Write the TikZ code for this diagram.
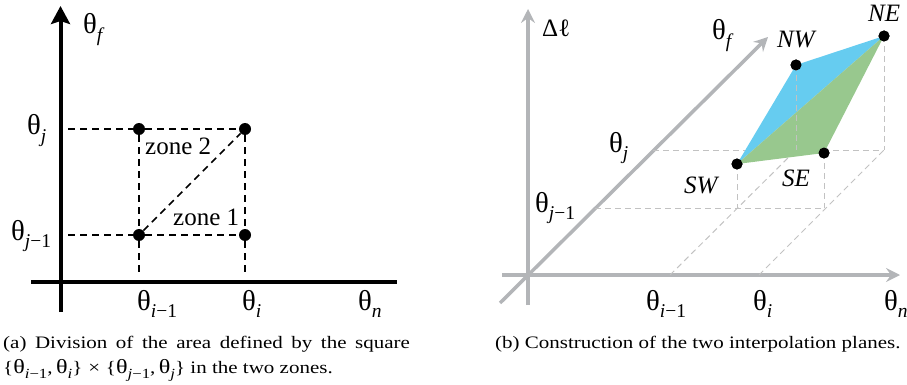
\documentclass[tikz,border=0pt]{standalone}
\usepackage{fontspec}
\setmainfont{Liberation Serif}
\usepackage{graphicx}
\usepackage{xcolor}
\usetikzlibrary{calc, positioning, arrows.meta}

\definecolor{axgray}{HTML}{B3B5B8}
\definecolor{dashgray}{HTML}{C2C2C2}
\definecolor{planeblue}{HTML}{66CCF0}
\definecolor{planegreen}{HTML}{98C88E}

\newcommand{\tht}{\scalebox{1.15}{θ}}
\newcommand{\idx}[1]{\raisebox{-0.3em}{\fontsize{19.5}{20}\selectfont #1}}
\newcommand{\cidx}[1]{\raisebox{-0.3em}{\fontsize{14}{14}\selectfont #1}}
\newcommand{\capline}[1]{\scalebox{1.2}[1]{#1}}

\tikzset{
    lbl/.style={font=\fontsize{25}{30}\selectfont, inner sep=0pt, anchor=base west},
    caption/.style={font=\fontsize{17.5}{25}\selectfont, inner sep=0pt, anchor=base west},
    dot/.style={circle, fill=black, inner sep=0pt, minimum size=12pt},
    grid/.style={dash pattern=on 7pt off 5pt, line width=1.5pt},
    ghost/.style={draw=dashgray, dash pattern=on 6pt off 4pt, line width=1pt},
    gaxis/.style={draw=axgray, line width=3.5pt, -{Stealth[length=14pt,width=14pt,inset=5pt]}}
}

\begin{document}
\begin{tikzpicture}[x=1pt, y=-1pt]
                \useasboundingbox (0,0) rectangle (907,385);

                % 1. Left: axes
                \draw[line width=4pt, -{Stealth[length=18pt,width=19pt,inset=3pt]}] (60.5,312) -- (60.5,6);
                \draw[line width=4pt] (31,282) -- (397,282);

                % 2. Left: corner points of the square
                \node[dot] (p1) at (139,235) {};
                \node[dot] (p2) at (245,235) {};
                \node[dot] (p3) at (139,129) {};
                \node[dot] (p4) at (245,129) {};
                \coordinate (hj)  at (68,129);
                \coordinate (hj1) at (68,235);
                \coordinate (vi1) at (139,273);
                \coordinate (vi)  at (245,273);

                % 3. Left: dashed grid and the diagonal
                \draw[grid] (hj) -- (p3) -- (p4);
                \draw[grid] (hj1) -- (p1) -- (p2);
                \draw[grid] (p3) -- (p1) -- (vi1);
                \draw[grid] (p4) -- (p2) -- (vi);
                \draw[grid] (p1) -- (p4);

                % 4. Left: labels
                \node[lbl] (lf)   at (83,34)   {\tht\idx{\textit{f}}};
                \node[lbl] (lj)   at (27,135)  {\tht\idx{\textit{j}}};
                \node[lbl] (lj1)  at (11,240)  {\tht\idx{\textit{j}−1}};
                \node[lbl] (li1)  at (137,310) {\tht\idx{\textit{i}−1}};
                \node[lbl] (li)   at (242,310) {\tht\idx{\textit{i}}};
                \node[lbl] (ln)   at (358,310) {\tht\idx{\textit{n}}};
                \node[lbl] (zn2)  at (145,154) {zone 2};
                \node[lbl] (zn1)  at (173,225) {zone 1};

                % 5. Right: axes
                \draw[gaxis] (528,305) -- (528,9);
                \draw[gaxis] (502,275) -- (900,275);
                \draw[gaxis] (500,303) -- (768,37);

                % 6. Right: floor grid
                \coordinate (dj1) at (595,208);
                \coordinate (dj)  at (653,150);
                \coordinate (ai1) at (670,275);
                \coordinate (ai)  at (759,275);
                \coordinate (fsw) at (737,208);
                \coordinate (fse) at (824,208);
                \coordinate (fnw) at (796,150);
                \coordinate (fne) at (884,150);
                \draw[ghost] (dj1) -- (fse);
                \draw[ghost] (dj) -- (fne);
                \draw[ghost] (ai1) -- (fnw);
                \draw[ghost] (ai) -- (fne);

                % 7. Right: the two planes
                \node[dot, minimum size=11pt] (sw) at (737,164) {};
                \node[dot, minimum size=11pt] (se) at (824,153) {};
                \node[dot, minimum size=11pt] (nw) at (796,65) {};
                \node[dot, minimum size=11pt] (ne) at (884,36) {};
                \fill[planeblue] (sw.center) -- (nw.center) -- (ne.center) -- cycle;
                \fill[planegreen] (sw.center) -- (se.center) -- (ne.center) -- cycle;
                \foreach \p/\f in {sw/fsw, se/fse, nw/fnw, ne/fne} {
                    \draw[ghost] (\p.center) -- (\f);
                }
                \foreach \p in {sw, se, nw, ne} {
                    \node[dot, minimum size=11pt] at (\p) {};
                }

                % 8. Right: labels
                \node[lbl] (dl)   at (542,37)  {Δℓ};
                \node[lbl] (rf)   at (712,40)  {\tht\idx{\textit{f}}};
                \node[lbl] (rj)   at (609,152) {\tht\idx{\textit{j}}};
                \node[lbl] (rj1)  at (535,212) {\tht\idx{\textit{j}−1}};
                \node[lbl] (ri1)  at (646,310) {\tht\idx{\textit{i}−1}};
                \node[lbl] (ri)   at (753,310) {\tht\idx{\textit{i}}};
                \node[lbl] (rn)   at (884,310) {\tht\idx{\textit{n}}};
                \node[lbl] (lnw)  at (777,48)  {\textit{NW}};
                \node[lbl] (lne)  at (868,22)  {\textit{NE}};
                \node[lbl] (lsw)  at (684,193) {\textit{SW}};
                \node[lbl] (lse)  at (782,186) {\textit{SE}};

                % 9. Captions
                \node[caption] (capa) at (3,348)
                    {\capline{\makebox[339pt][s]{(a) Division of the area defined by the square}}};
                \node[caption] (capa2) at (3,373)
                    {\capline{\{\tht\cidx{\textit{i}−1},\,\tht\cidx{\textit{i}}\}\;×\;\{\tht\cidx{\textit{j}−1},\,\tht\cidx{\textit{j}}\} in the two zones.}};
                \node[caption] (capb) at (495,348)
                    {\capline{(b) Construction of the two interpolation planes.}};
            \end{tikzpicture}
\end{document}
